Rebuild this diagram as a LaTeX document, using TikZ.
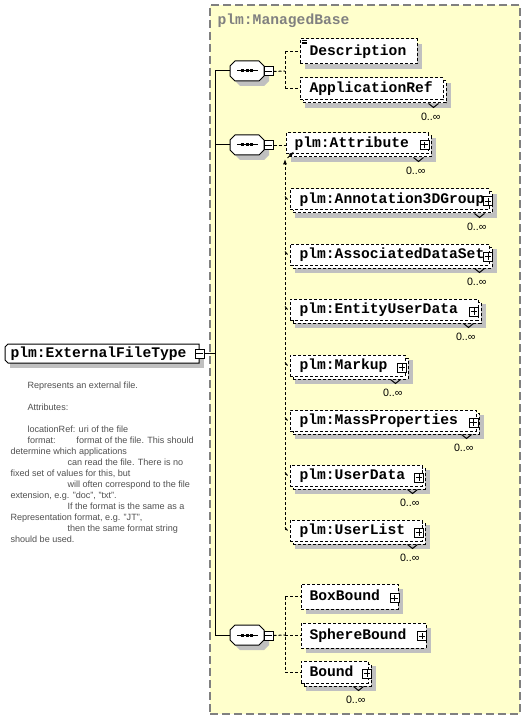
\documentclass[tikz,border=0pt]{standalone}
\usepackage{fontspec}
\setmainfont{Liberation Sans}
\newfontfamily\monob{Liberation Mono}
\usetikzlibrary{fit,arrows.meta}
\definecolor{ylw}{RGB}{255,255,204}
\definecolor{shd}{RGB}{192,192,192}
\definecolor{frame}{RGB}{128,128,128}
\definecolor{doc}{RGB}{80,80,80}

\newcommand\elsingle[7]{% name x0 y0 x1 y1 textx label
  \fill[shd] ({#2+5},{#3+5}) rectangle ({#4+5},{#5+5});
  \node[ebox, fit={(#2,#3)(#4,#5)}] (#1) {};
  \node[etext] (#1-t) at (#6,{(#3+#5)/2+4}) {#7};
}
\newcommand\elmulti[7]{% name x0 y0 x1 y1 textx label
  \fill[shd] ({#2+5},{#3+5}) rectangle ({#4+5},{#5+5});
  \node[ebox, fit={({#2+3},{#3+3})(#4,#5)}] (#1-b) {};
  \node[ebox, fit={(#2,#3)({#4-3},{#5-3})}] (#1) {};
  \draw (#1-b.south east) ++(-18,0) -- ++(5,4) -- ++(5,-4);
  \node[occ] (#1-o) at ({#4-5},{#5+14}) {0..∞};
  \node[etext] (#1-t) at (#6,{(#3+#5-3)/2+4}) {#7};
}
\newcommand\seqnode[3]{% name x0 yc
  \fill[shd] ({#2+10},{#3-5}) -- ({#2+34},{#3-5}) -- ({#2+39},{#3}) -- ({#2+39},{#3+10}) -- ({#2+34},{#3+15}) -- ({#2+10},{#3+15}) -- ({#2+5},{#3+10}) -- ({#2+5},{#3}) -- cycle;
  \draw[fill=white] ({#2+5},{#3-10}) -- ({#2+29},{#3-10}) -- ({#2+34},{#3-5}) -- ({#2+34},{#3+5}) -- ({#2+29},{#3+10}) -- ({#2+5},{#3+10}) -- (#2,{#3+5}) -- (#2,{#3-5}) -- cycle;
  \node[fit={(#2,{#3-10})({#2+34},{#3+10})}, inner sep=0pt] (#1) {};
  \draw ({#2+7},#3) -- ({#2+28},#3);
  \fill ({#2+11},{#3-1.5}) rectangle ({#2+14},{#3+1.5});
  \fill ({#2+15.5},{#3-1.5}) rectangle ({#2+18.5},{#3+1.5});
  \fill ({#2+20},{#3-1.5}) rectangle ({#2+23},{#3+1.5});
  \node[minusbox] (#1-m) at ({#2+38.5},{#3+0.5}) {};
}

\begin{document}
\begin{tikzpicture}[x=0.75pt, y=-0.75pt, line width=0.75pt,
  ebox/.style={draw, fill=white, dash pattern=on 2.25pt off 1.5pt, inner sep=0pt},
  etext/.style={font=\monob\bfseries\fontsize{11}{12}\selectfont, inner sep=0pt, anchor=base west},
  occ/.style={font=\fontsize{8}{9}\selectfont, inner sep=0pt, anchor=east},
  doctext/.style={font=\fontsize{6.8}{8}\selectfont, text=doc, inner sep=0pt, anchor=base west},
  dcon/.style={dash pattern=on 2.25pt off 1.5pt},
  pmbox/.style={draw, solid, fill=white, minimum width=6.75pt, minimum height=6.75pt, inner sep=0pt},
  plusbox/.style={pmbox, path picture={\draw ([xshift=-2.5pt]path picture bounding box.center) -- ([xshift=2.5pt]path picture bounding box.center) ([yshift=-2.5pt]path picture bounding box.center) -- ([yshift=2.5pt]path picture bounding box.center);}},
  minusbox/.style={pmbox, path picture={\draw ([xshift=-2.5pt]path picture bounding box.center) -- ([xshift=2.5pt]path picture bounding box.center);}},
  tip/.style={-{Latex[length=4pt,width=3pt]}}
]
\useasboundingbox (0,0) rectangle (525,720);

% ManagedBase frame
\node[fit={(210,5)(520,714)}, inner sep=0pt, draw=frame, fill=ylw, dash pattern=on 6pt off 3pt, line width=1.2pt] (mbase) {};
\node[etext, text=frame] (mbase-t) at (217,25) {plm:ManagedBase};

% root element
\fill[shd] (10,349) rectangle (204,368);
\draw[fill=white] (8,344) -- (199,344) -- (199,363) -- (8,363) -- (5,360) -- (5,347) -- cycle;
\node[fit={(5,344)(199,363)}, inner sep=0pt] (root) {};
\node[etext] (root-t) at (10,357.5) {plm:ExternalFileType};
\node[minusbox] (root-m) at (199.5,353.5) {};

% compositors
\seqnode{seq1}{230}{71}
\seqnode{seq2}{230}{145}
\seqnode{seq3}{230}{635}

% trunk
\coordinate (tr1) at (215,71);
\coordinate (tr3) at (215,635);
\coordinate (trr) at (215,353.5);
\draw (tr1) -- (tr3);
\draw (root-m.east) -- (trr);
\draw (tr1) -- (seq1.west);
\draw (seq2.west -| tr1) -- (seq2.west);
\draw (tr3) -- (seq3.west);

% sequence 1 children
\elsingle{desc}{300}{39}{417}{64}{309}{Description}
\draw (desc.north west) ++(2,2) -- ++(5,0);
\draw (desc.north west) ++(2,3.7) -- ++(5,0);
\draw (desc.north west) ++(2,5.4) -- ++(5,0);
\elmulti{appref}{300}{78}{446}{103}{309}{ApplicationRef}
\coordinate (s1j) at (285,71);
\coordinate (s1a) at (285,51.5);
\coordinate (s1b) at (285,89);
\draw[dcon] (seq1-m.east) -- (s1j);
\draw[dcon] (s1a) -- (s1b);
\draw[dcon] (s1a) -- (desc.west);
\draw[dcon] (s1b) -- (appref.west);

% sequence 2 children
\elmulti{attr}{286}{133}{431}{157}{294}{plm:Attribute}
\node[plusbox] (attr-p) at (424.5,145) {};
\draw[dcon] (seq2-m.east) -- (seq2-m.east -| attr.west);
\elmulti{ann}{290}{189}{492}{213}{299}{plm:Annotation3DGroup}
\node[plusbox] (ann-p) at (488,201.5) {};
\elmulti{ads}{290}{244}{492}{268}{299}{plm:AssociatedDataSet}
\node[plusbox] (ads-p) at (488,256.5) {};
\elmulti{eud}{290}{299}{481}{323}{299}{plm:EntityUserData}
\node[plusbox] (eud-p) at (474,311.5) {};
\elmulti{mkp}{290}{355}{408}{379}{299}{plm:Markup}
\node[plusbox] (mkp-p) at (402,367.5) {};
\elmulti{mass}{290}{410}{479}{434}{299}{plm:MassProperties}
\node[plusbox] (mass-p) at (473.5,422.5) {};
\elmulti{ud}{290}{465}{425}{489}{299}{plm:UserData}
\node[plusbox] (ud-p) at (419,477.5) {};
\elmulti{ul}{290}{520}{425}{544}{299}{plm:UserList}
\node[plusbox] (ul-p) at (419,532.5) {};
\coordinate (sgtop) at (285,159);
\coordinate (sgbot) at (285,530);
\coordinate (sga) at (287.5,158);
\coordinate (sgb) at (294,151.5);
\draw[dcon, tip] (sgbot) -- (sgtop);
\draw[tip] (sga) -- (sgb);
\foreach \c in {ann,ads,eud,mkp,mass,ud,ul}{
  \draw (\c.west) ++(-4.5,-3) -- ++(2.5,3);
}

% sequence 3 children
\elsingle{boxb}{301}{584}{398}{609}{309}{BoxBound}
\node[plusbox] (boxb-p) at (394.5,598) {};
\elsingle{sphb}{301}{623}{426}{648}{309}{SphereBound}
\node[plusbox] (sphb-p) at (422,636) {};
\elmulti{bnd}{301}{661}{371}{686}{309}{Bound}
\node[plusbox] (bnd-p) at (367,673.5) {};
\coordinate (s3j) at (285,635);
\coordinate (s3a) at (285,596.5);
\coordinate (s3b) at (285,672);
\draw[dcon] (seq3-m.east) -- (s3j);
\draw[dcon] (s3a) -- (s3b);
\draw[dcon] (s3a) -- (boxb.west);
\draw[dcon] (s3j) -- (s3j -| sphb.west);
\draw[dcon] (s3b) -- (bnd.west);

% documentation
\node[doctext] (d1) at (27,388) {Represents an external file.};
\node[doctext] (d2) at (27,410) {Attributes:};
\node[doctext] (d3) at (27,432) {locationRef: uri of the file};
\node[doctext] (d4) at (27,443) {\makebox[36.75pt][l]{format:}format of the file. This should};
\node[doctext] (d5) at (10,454) {determine which applications};
\node[doctext] (d6) at (67,465) {can read the file. There is no};
\node[doctext] (d7) at (10,476) {fixed set of values for this, but};
\node[doctext] (d8) at (67,487) {will often correspond to the file};
\node[doctext] (d9) at (10,498) {extension, e.g. "doc", "txt".};
\node[doctext] (d10) at (67,509) {If the format is the same as a};
\node[doctext] (d11) at (10,520) {Representation format, e.g. "JT",};
\node[doctext] (d12) at (67,531) {then the same format string};
\node[doctext] (d13) at (10,542) {should be used.};
\end{tikzpicture}
\end{document}
